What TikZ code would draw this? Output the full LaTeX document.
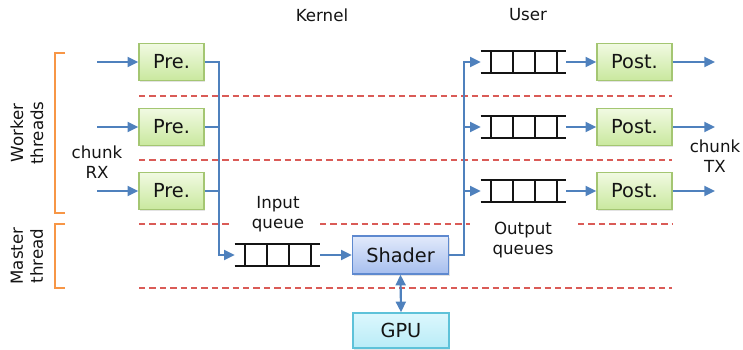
\documentclass[tikz,border=0pt]{standalone}
\usepackage{fontspec}
\setmainfont{DejaVu Sans}
\usetikzlibrary{arrows.meta,calc,shadows}

\definecolor{flowblue}{HTML}{4F81BD}
\definecolor{greentop}{HTML}{F1FAE2}
\definecolor{greenbot}{HTML}{C9E89E}
\definecolor{greenedge}{HTML}{A4C672}
\definecolor{bluetop}{HTML}{E2EAFB}
\definecolor{bluebot}{HTML}{A6BEEE}
\definecolor{blueedge}{HTML}{5E89CF}
\definecolor{cyantop}{HTML}{DCF7FD}
\definecolor{cyanbot}{HTML}{B9ECF7}
\definecolor{cyanedge}{HTML}{5EC2D9}
\definecolor{sepred}{HTML}{DA5B57}
\definecolor{bracketorange}{HTML}{F79646}
\definecolor{ink}{HTML}{141414}

\tikzset{
  box/.style={draw, line width=1.1pt, inner sep=0pt, text=ink,
    font=\fontsize{14.5}{17}\selectfont,
    drop shadow={opacity=0.22, shadow xshift=1pt, shadow yshift=-1.2pt}},
  prebox/.style={box, draw=greenedge, top color=greentop, bottom color=greenbot,
    minimum width=48.75pt, minimum height=27.75pt},
  postbox/.style={prebox, minimum width=56.25pt},
  shaderbox/.style={box, draw=blueedge, top color=bluetop, bottom color=bluebot,
    minimum width=72pt, minimum height=28.5pt},
  gpubox/.style={box, draw=cyanedge, top color=cyantop, bottom color=cyanbot,
    minimum width=72pt, minimum height=26.25pt},
  fifo/.style={inner sep=0pt, minimum width=63.75pt, minimum height=16.5pt},
  qline/.style={draw=ink, line width=1.2pt},
  flow/.style={draw=flowblue, line width=1.6pt, line join=miter},
  flowarrow/.style={flow, -{Triangle[length=8pt,width=7.5pt]}},
  flowboth/.style={flow, {Triangle[length=8pt,width=7.5pt]}-{Triangle[length=8pt,width=7.5pt]}},
  sep/.style={draw=sepred, line width=1.1pt, dash pattern=on 4.8pt off 3pt},
  bracket/.style={draw=bracketorange, line width=1.1pt},
  label/.style={text=ink, font=\fontsize{12.5}{15}\selectfont, align=center, inner sep=0pt},
}

\begin{document}
\begin{tikzpicture}[x=0.75pt, y=-0.75pt]
  \useasboundingbox (0,0) rectangle (743,350);

  % thread separators
  \path[sep] (139,96) -- (672,96);
  \path[sep] (139,160) -- (672,160);
  \path[sep] (139,224) -- (232,224);
  \path[sep] (320,224) -- (470,224);
  \path[sep] (578,224) -- (672,224);
  \path[sep] (139,288) -- (672,288);

  % thread brackets
  \path[bracket] (65,53) -- (55,53) -- (55,213) -- (65,213);
  \path[bracket] (65,224) -- (55,224) -- (55,288) -- (65,288);
  \node[label, rotate=90] (worker) at (27,133) {Worker\\threads};
  \node[label, rotate=90] (master) at (27,256) {Master\\thread};

  % column headings
  \node[label] (kernel) at (322,15) {Kernel};
  \node[label] (user) at (528,15) {User};

  % pre-processing stage
  \node[prebox] (pre1) at (171.5,62) {Pre.};
  \node[prebox] (pre2) at (171.5,127) {Pre.};
  \node[prebox] (pre3) at (171.5,191) {Pre.};

  % post-processing stage
  \node[postbox] (post1) at (634.5,62) {Post.};
  \node[postbox] (post2) at (634.5,127) {Post.};
  \node[postbox] (post3) at (634.5,191) {Post.};

  % queues
  \node[fifo] (iq) at (277.5,255) {};
  \node[fifo] (oq1) at (523.5,62) {};
  \node[fifo] (oq2) at (523.5,127) {};
  \node[fifo] (oq3) at (523.5,191) {};
  \foreach \q in {iq,oq1,oq2,oq3} {
    \path[qline] (\q.north west) -- (\q.north east);
    \path[qline] (\q.south west) -- (\q.south east);
    \foreach \f in {0.118,0.376,0.635,0.894}
      \path[qline] ($(\q.north west)!\f!(\q.north east)$) -- ($(\q.south west)!\f!(\q.south east)$);
  }

  % shader and GPU
  \node[shaderbox] (shader) at (400.5,255) {Shader};
  \node[gpubox] (gpu) at (401,330.5) {GPU};

  % text labels
  \node[label] (rx) at (97,162) {chunk\\RX};
  \node[label] (tx) at (715,156) {chunk\\TX};
  \node[label] (iqlabel) at (278,214) {Input\\queue};
  \node[label] (oqlabel) at (523,240) {Output\\queues};

  % incoming chunks
  \coordinate (in1) at (97,62);
  \coordinate (in2) at (97,127);
  \coordinate (in3) at (97,191);
  \draw[flowarrow] (in1) -- (pre1.west);
  \draw[flowarrow] (in2) -- (pre2.west);
  \draw[flowarrow] (in3) -- (pre3.west);

  % gather into the input queue
  \coordinate (busL) at (219,0);
  \draw[flowarrow] (pre1.east) -| (busL |- iq.west) -- (iq.west);
  \draw[flow] (pre2.east) -- (pre2.east -| busL);
  \draw[flow] (pre3.east) -- (pre3.east -| busL);

  % input queue to shader, shader to GPU
  \draw[flowarrow] (iq.east) -- (shader.west);
  \draw[flowboth] (shader.south) -- (gpu.north);

  % scatter into the output queues
  \coordinate (busR) at (464,0);
  \draw[flowarrow] (shader.east) -| (busR |- oq1.west) -- (oq1.west);
  \draw[flowarrow] (busR |- oq2.west) -- (oq2.west);
  \draw[flowarrow] (busR |- oq3.west) -- (oq3.west);

  % output queues to post-processing
  \draw[flowarrow] (oq1.east) -- (post1.west);
  \draw[flowarrow] (oq2.east) -- (post2.west);
  \draw[flowarrow] (oq3.east) -- (post3.west);

  % outgoing chunks
  \coordinate (out1) at (715,62);
  \coordinate (out2) at (715,127);
  \coordinate (out3) at (715,191);
  \draw[flowarrow] (post1.east) -- (out1);
  \draw[flowarrow] (post2.east) -- (out2);
  \draw[flowarrow] (post3.east) -- (out3);
\end{tikzpicture}
\end{document}
